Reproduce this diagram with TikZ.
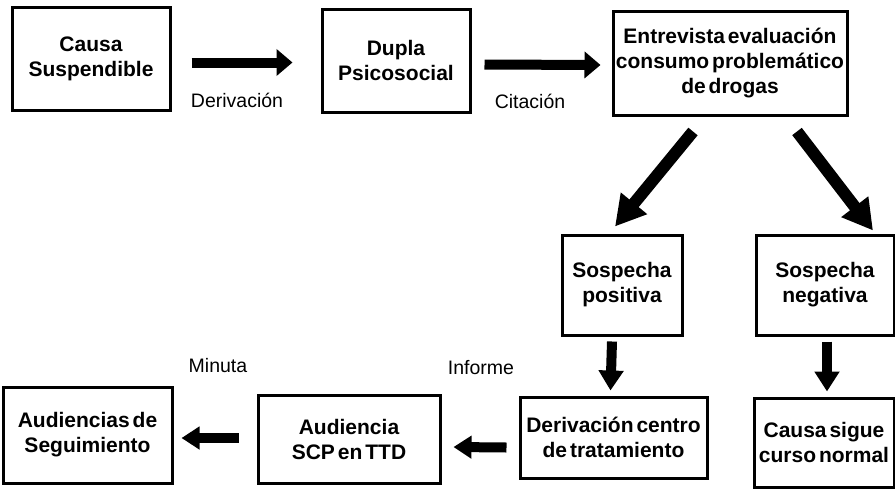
\documentclass[tikz,border=0pt]{standalone}
\usepackage{fontspec}
\setmainfont{Liberation Sans}
\usetikzlibrary{arrows.meta,calc}
\newcommand\tightwords{\spaceskip=0.14em plus 0.05em\relax}
\begin{document}
\begin{tikzpicture}[x=1pt,y=-1pt,
  box/.style={draw,line width=3pt,align=center,inner sep=0pt,
    font=\bfseries\fontsize{21}{25}\selectfont,
    execute at begin node=\tightwords},
  lbl/.style={font=\fontsize{19.5}{22}\selectfont},
  harrow/.style={line width=10pt,-{Triangle[length=16pt,width=26pt]}},
  darrow/.style={line width=12pt,-{Triangle[length=30pt,width=32pt]}},
  varrow/.style={line width=10pt,-{Triangle[length=20pt,width=24pt]}},
  larrow/.style={line width=10pt,-{Triangle[length=18pt,width=22pt]}}]
\useasboundingbox (0,0) rectangle (895,491);
% boxes
\node[box,minimum width=158pt,minimum height=103pt] (b1) at (91,58.5) {Causa\\Suspendible};
\node[box,minimum width=148pt,minimum height=103pt] (b2) at (396,60.5) {Dupla\\Psicosocial};
\node[box,minimum width=234pt,minimum height=104pt] (b3) at (730,63) {Entrevista evaluación\\consumo problemático\\de drogas};
\node[box,minimum width=120pt,minimum height=100pt] (sp) at (622,285) {Sospecha\\positiva};
\node[box,minimum width=138pt,minimum height=100pt] (sn) at (825,285) {Sospecha\\negativa};
\node[box,minimum width=187pt,minimum height=81pt] (dc) at (613.5,437.5) {Derivación centro\\de tratamiento};
\node[box,minimum width=140pt,minimum height=89pt] (cs) at (824,442.5) {Causa sigue\\curso normal};
\node[box,minimum width=182pt,minimum height=88pt] (scp) at (349,439) {Audiencia\\SCP en TTD};
\node[box,minimum width=169pt,minimum height=96pt] (as) at (87.5,435) {Audiencias de\\Seguimiento};
% labels
\node[lbl] (l1) at (237,100) {Derivación};
\node[lbl] (l2) at (530,101) {Citación};
\node[lbl] (l3) at (481,368) {Informe};
\node[lbl] (l4) at (218,366) {Minuta};
% arrows
\draw[harrow] ($(b1.east)+(20,4)$) -- ($(b2.west)+(-28,2)$);
\draw[harrow] ($(b2.east)+(13,4)$) -- ($(b3.west)+(-11,2)$);
\draw[darrow] ($(b3.south)+(-37,15)$) -- ($(sp.north)+(-7,-7)$);
\draw[darrow] ($(b3.south)+(67,15)$) -- ($(sn.north)+(48,-3)$);
\draw[varrow] ($(sp.south)+(-10,5)$) -- ($(dc.north)+(-3,-5)$);
\draw[varrow] ($(sn.south)+(2,5)$) -- ($(cs.north)+(3,-5)$);
\draw[larrow] ($(dc.west)+(-12,10)$) -- ($(scp.east)+(12,8)$);
\draw[larrow] ($(scp.west)+(-18,-1)$) -- ($(as.east)+(8,3)$);
\end{tikzpicture}
\end{document}
